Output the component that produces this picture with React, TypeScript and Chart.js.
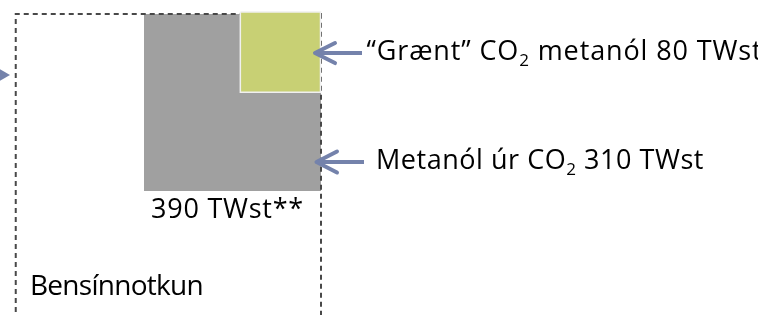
import React, { useEffect, useRef } from 'react';
import { Chart, registerables } from 'chart.js';

Chart.register(...registerables);

// Energy quantities shown as squares whose area is proportional to the value (TWst)
const categories = ['Bensínnotkun', 'Metanól úr CO₂', '“Grænt” CO₂ metanól'];
const energyTWst = [1160, 310, 80];
const unitLabel = 'TWst';

type Seg = [string, boolean];

const FONT = '"Open Sans", Lato, sans-serif';

function drawRich(
  ctx: CanvasRenderingContext2D,
  segs: Seg[],
  x: number,
  baseline: number,
  width: number,
  size: number
) {
  const main = `${size}px ${FONT}`;
  const sub = `${Math.round(size * 0.64)}px ${FONT}`;
  const anyCtx = ctx as any;
  const hasLS = 'letterSpacing' in anyCtx;
  if (hasLS) anyCtx.letterSpacing = '0px';
  const widths: number[] = [];
  let natural = 0;
  let n = 0;
  segs.forEach(([t, s]) => {
    ctx.font = s ? sub : main;
    const w = ctx.measureText(t).width;
    widths.push(w);
    natural += w;
    n += [...t].length;
  });
  const ls = hasLS ? (width - natural) / n : 0;
  let cx = x;
  segs.forEach(([t, s], i) => {
    ctx.font = s ? sub : main;
    if (hasLS) anyCtx.letterSpacing = `${ls}px`;
    ctx.fillText(t, cx, s ? baseline + 5.5 : baseline);
    cx += widths[i] + ls * [...t].length;
  });
  if (hasLS) anyCtx.letterSpacing = '0px';
}

export default function App() {
  const ref = useRef<HTMLCanvasElement>(null);

  useEffect(() => {
    if (!ref.current) return;
    const [bensin, metanol, graent] = energyTWst;
    const total = metanol + graent;
    const K = 177 / Math.sqrt(total); // px per sqrt(TWst)
    const side = (v: number) => Math.sqrt(v) * K;
    const R = 321;
    const T = 14;
    const sB = side(bensin);
    const sG = side(total);
    const sGr = side(graent);
    const gTop = 12;
    const gRight = 320.5;
    const arrowColor = '#7482ab';

    const greenArrowY = gTop + sGr / 2 + 1;
    const grayArrowY = 162;

    const textPlugin = {
      id: 'labels',
      afterDatasetsDraw(chart: any) {
        const { ctx, scales } = chart;
        const px = (v: number) => scales.x.getPixelForValue(v);
        const py = (v: number) => scales.y.getPixelForValue(v);
        ctx.save();
        ctx.fillStyle = '#000000';
        ctx.textBaseline = 'alphabetic';
        drawRich(
          ctx,
          [['“Grænt” CO', false], ['2', true], [` metanól ${graent} ${unitLabel}`, false]],
          px(366.5), py(60), 396, 27
        );
        drawRich(
          ctx,
          [['Metanól úr CO', false], ['2', true], [` ${metanol} ${unitLabel}`, false]],
          px(376), py(169), 328, 27
        );
        drawRich(ctx, [[`${total} ${unitLabel}**`, false]], px(151), py(218), 153, 27);
        drawRich(ctx, [[categories[0], false]], px(30), py(295), 173, 28);
        ctx.restore();
      },
    };

    const base = { pointRadius: 0, fill: false, tension: 0 };

    const chart = new Chart(ref.current, {
      type: 'line',
      data: {
        datasets: [
          {
            ...base,
            label: categories[1],
            data: [{ x: R - sG, y: T }, { x: R, y: T }],
            fill: { value: T + sG },
            backgroundColor: '#a0a0a0',
            borderColor: 'rgba(0,0,0,0)',
            borderWidth: 0,
            order: 10,
          },
          {
            ...base,
            label: categories[0],
            data: [
              { x: R - sB, y: 420 },
              { x: R - sB, y: T },
              { x: R, y: T },
              { x: R, y: 420 },
            ],
            borderColor: '#484848',
            borderWidth: 2,
            borderDash: [5, 4],
            order: 9,
          },
          {
            ...base,
            label: categories[2],
            data: [{ x: gRight - sGr, y: gTop }, { x: gRight, y: gTop }],
            fill: { value: gTop + sGr },
            backgroundColor: '#c8d074',
            borderColor: 'rgba(0,0,0,0)',
            borderWidth: 0,
            order: 8,
          },
          {
            ...base,
            label: 'border',
            data: [
              { x: gRight - sGr, y: gTop },
              { x: gRight, y: gTop },
              { x: gRight, y: gTop + sGr },
              { x: gRight - sGr, y: gTop + sGr },
              { x: gRight - sGr, y: gTop },
            ],
            borderColor: '#f0f0f0',
            borderWidth: 1.5,
            order: 7,
          },
          {
            ...base,
            label: 'a1',
            data: [{ x: 317, y: greenArrowY }, { x: 362, y: greenArrowY }],
            borderColor: arrowColor,
            borderWidth: 4,
            order: 3,
          },
          {
            ...base,
            label: 'h1',
            data: [
              { x: 335, y: greenArrowY - 10 },
              { x: 315, y: greenArrowY },
              { x: 335, y: greenArrowY + 10 },
            ],
            borderColor: arrowColor,
            borderWidth: 4,
            borderJoinStyle: 'round',
            borderCapStyle: 'round',
            order: 3,
          },
          {
            ...base,
            label: 'a2',
            data: [{ x: 318, y: grayArrowY }, { x: 364, y: grayArrowY }],
            borderColor: arrowColor,
            borderWidth: 4,
            order: 3,
          },
          {
            ...base,
            label: 'h2',
            data: [
              { x: 337, y: grayArrowY - 10.5 },
              { x: 316.5, y: grayArrowY },
              { x: 337, y: grayArrowY + 10.5 },
            ],
            borderColor: arrowColor,
            borderWidth: 4,
            borderJoinStyle: 'round',
            borderCapStyle: 'round',
            order: 3,
          },
          {
            label: 'left',
            data: [{ x: 2, y: 75 }],
            showLine: false,
            pointStyle: 'triangle',
            rotation: 90,
            pointRadius: 8,
            pointBackgroundColor: arrowColor,
            pointBorderColor: arrowColor,
            pointBorderWidth: 0,
            order: 2,
          },
        ] as any,
      },
      options: {
        animation: false,
        responsive: false,
        maintainAspectRatio: false,
        devicePixelRatio: 1,
        layout: { padding: 0, autoPadding: false },
        events: [],
        scales: {
          x: { type: 'linear', min: 0, max: 758, display: false },
          y: { type: 'linear', min: 0, max: 315, reverse: true, display: false },
        },
        plugins: {
          legend: { display: false },
          tooltip: { enabled: false },
        },
      } as any,
      plugins: [textPlugin],
    });
    return () => chart.destroy();
  }, []);

  return (
    <div style={{ position: 'absolute', left: 0, top: 0, width: 758, height: 315, background: '#fff' }}>
      <canvas ref={ref} width={758} height={315} />
    </div>
  );
}
